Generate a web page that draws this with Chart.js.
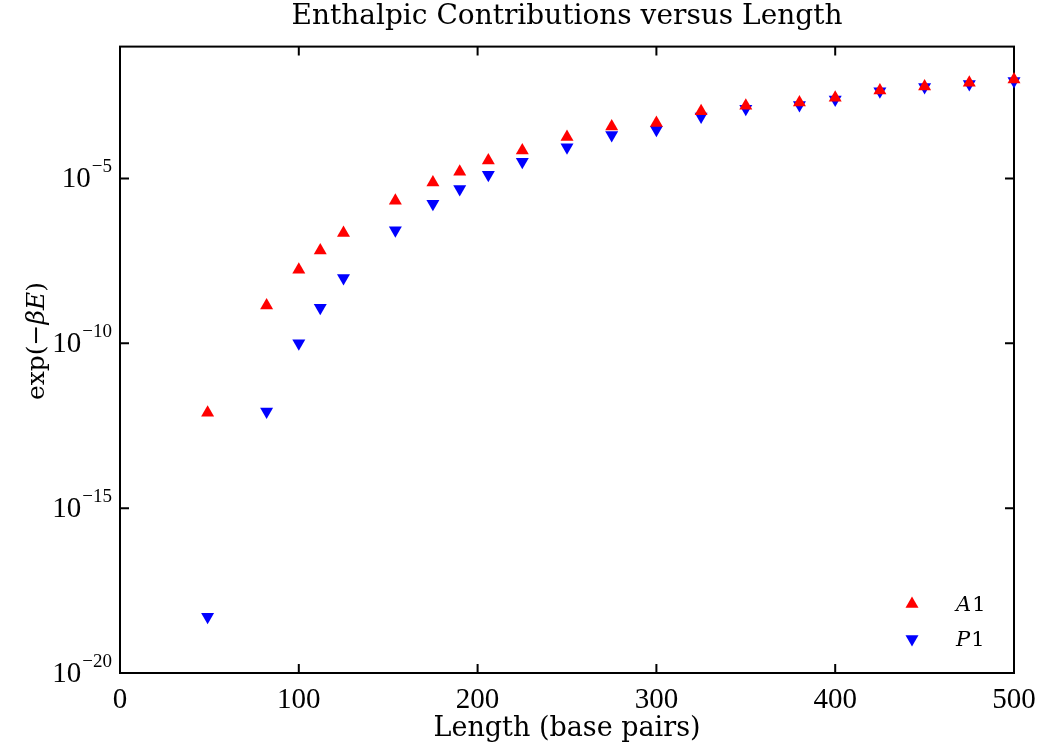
<!DOCTYPE html>
<html>
<head>
<meta charset="utf-8">
<script src="https://cdn.jsdelivr.net/npm/chart.js@4.4.0/dist/chart.umd.min.js"></script>
<style>
  body { margin: 0; background: #fff; }
</style>
</head>
<body>
<canvas id="energyChart" width="1042" height="749"></canvas>
<script>
// values
const lengths = [49, 82, 100, 112, 125, 154, 175, 190, 206, 225, 250, 275, 300, 325, 350, 380, 400, 425, 450, 475, 500];
const a1Values = [7.9e-13, 1.4e-9, 1.7e-8, 6.5e-8, 2.2e-7, 2.1e-6, 7.6e-6, 1.6e-5, 3.5e-5, 7.1e-5, 1.8e-4,
                  3.8e-4, 4.8e-4, 1.1e-3, 1.6e-3, 2.0e-3, 2.8e-3, 4.7e-3, 6.2e-3, 8.0e-3, 1.0e-2];
const p1Values = [5.1e-19, 8.5e-13, 1.0e-10, 1.2e-9, 9.6e-9, 2.7e-7, 1.7e-6, 4.8e-6, 1.3e-5, 3.2e-5, 8.9e-5,
                  2.1e-4, 3.0e-4, 7.6e-4, 1.3e-3, 1.7e-3, 2.5e-3, 4.4e-3, 6.0e-3, 7.4e-3, 9.0e-3];
const xTickValues = [0, 100, 200, 300, 400, 500];
const yTickExponents = [-20, -15, -10, -5];
const seriesNames = ['A1', 'P1'];
const seriesColors = ['#ff0000', '#0000ff'];

const serif = 'DejaVu Serif';
const numFont = 'Liberation Serif';
const tickLen = 9;

function toPoints(values) {
    return lengths.map((x, i) => ({ x: x, y: values[i] }));
}

// frame and inward ticks, drawn under the markers
const framePlugin = {
    id: 'frame',
    beforeDatasetsDraw(chart) {
        const ctx = chart.ctx;
        const a = chart.chartArea;
        const xs = chart.scales.x;
        const ys = chart.scales.y;
        ctx.save();
        ctx.strokeStyle = '#000';
        ctx.lineWidth = 2;
        ctx.strokeRect(a.left, a.top, a.right - a.left, a.bottom - a.top);
        ctx.beginPath();
        xTickValues.forEach(v => {
            const px = xs.getPixelForValue(v);
            ctx.moveTo(px, a.bottom);
            ctx.lineTo(px, a.bottom - tickLen);
            ctx.moveTo(px, a.top);
            ctx.lineTo(px, a.top + tickLen);
        });
        yTickExponents.forEach(e => {
            const py = ys.getPixelForValue(Math.pow(10, e));
            ctx.moveTo(a.left, py);
            ctx.lineTo(a.left + tickLen, py);
            ctx.moveTo(a.right, py);
            ctx.lineTo(a.right - tickLen, py);
        });
        ctx.stroke();
        ctx.restore();
    },
    afterDraw(chart) {
        const ctx = chart.ctx;
        const ys = chart.scales.y;
        ctx.save();
        ctx.fillStyle = '#000';

        // y tick labels as 10 with a raised exponent
        yTickExponents.forEach(e => {
            const py = ys.getPixelForValue(Math.pow(10, e));
            const expText = '\u2212' + Math.abs(e);
            ctx.font = '19px "' + numFont + '"';
            const expW = ctx.measureText(expText).width;
            ctx.font = '29px "' + numFont + '"';
            const baseW = ctx.measureText('10').width;
            const right = 112;
            ctx.textBaseline = 'middle';
            ctx.textAlign = 'left';
            ctx.fillText('10', right - expW - baseW - 1, py + 1);
            ctx.font = '19px "' + numFont + '"';
            ctx.fillText(expText, right - expW, py - 11);
        });

        // y axis title exp(-βE)
        const parts = [['exp(\u2212', ''], ['\u03b2', 'italic '], ['E', 'italic '], [')', '']];
        ctx.save();
        ctx.translate(37, 341);
        ctx.rotate(-Math.PI / 2);
        let total = 0;
        parts.forEach(p => {
            ctx.font = p[1] + '25px "' + serif + '"';
            total += ctx.measureText(p[0]).width;
        });
        let cx = -total / 2;
        ctx.textBaseline = 'middle';
        ctx.textAlign = 'left';
        parts.forEach(p => {
            ctx.font = p[1] + '25px "' + serif + '"';
            ctx.fillText(p[0], cx, 0);
            cx += ctx.measureText(p[0]).width;
        });
        ctx.restore();

        // legend, bottom right inside the axes
        const legendY = [606, 641];
        seriesNames.forEach((name, i) => {
            ctx.fillStyle = seriesColors[i];
            Chart.helpers.drawPoint(ctx, {
                pointStyle: 'triangle', rotation: i === 0 ? 0 : 180, radius: 7.5, borderWidth: 0
            }, 912, legendY[i] - 2);
            ctx.fillStyle = '#000';
            ctx.textBaseline = 'middle';
            ctx.textAlign = 'left';
            ctx.font = 'italic 21px "' + serif + '"';
            ctx.fillText(name[0], 956, legendY[i]);
            const w = ctx.measureText(name[0]).width;
            ctx.font = '21px "' + serif + '"';
            ctx.fillText(name.slice(1), 956 + w + 1, legendY[i]);
        });
        ctx.restore();
    }
};

const ctx = document.getElementById('energyChart').getContext('2d');
const energyChart = new Chart(ctx, {
    type: 'scatter',
    data: {
        datasets: [{
            label: seriesNames[0],
            data: toPoints(a1Values),
            pointStyle: 'triangle',
            rotation: 0,
            pointRadius: 7.5,
            pointBorderWidth: 0,
            backgroundColor: seriesColors[0],
            borderColor: seriesColors[0],
            clip: false
        }, {
            label: seriesNames[1],
            data: toPoints(p1Values),
            pointStyle: 'triangle',
            rotation: 180,
            pointRadius: 7.5,
            pointBorderWidth: 0,
            backgroundColor: seriesColors[1],
            borderColor: seriesColors[1],
            clip: false
        }]
    },
    options: {
        responsive: false,
        animation: false,
        devicePixelRatio: 1,
        layout: { padding: { left: 0, right: 28, top: 0, bottom: 0 } },
        plugins: {
            legend: { display: false },
            tooltip: { enabled: false },
            title: {
                display: true,
                fullSize: false,
                text: 'Enthalpic Contributions versus Length',
                color: '#000',
                font: { family: serif, size: 28, weight: 'normal' },
                padding: { top: 0, bottom: 13 }
            }
        },
        scales: {
            x: {
                type: 'linear',
                min: 0,
                max: 500,
                afterBuildTicks: scale => {
                    scale.ticks = xTickValues.map(v => ({ value: v }));
                },
                afterFit: scale => {
                    scale.height = 76;
                    scale.paddingLeft = 0;
                    scale.paddingRight = 0;
                },
                grid: { display: false, drawTicks: false },
                border: { display: false },
                ticks: {
                    color: '#000',
                    padding: 10,
                    maxRotation: 0,
                    font: { family: numFont, size: 29 }
                },
                title: {
                    display: true,
                    text: 'Length (base pairs)',
                    color: '#000',
                    font: { family: serif, size: 27 },
                    padding: { top: 0, bottom: 4 }
                }
            },
            y: {
                type: 'logarithmic',
                min: 1e-20,
                max: 1e-1,
                afterBuildTicks: scale => {
                    scale.ticks = yTickExponents.map(e => ({ value: Math.pow(10, e) }));
                },
                afterFit: scale => {
                    scale.width = 120;
                    scale.paddingTop = 0;
                    scale.paddingBottom = 0;
                },
                grid: { display: false, drawTicks: false },
                border: { display: false },
                ticks: { display: false }
            }
        }
    },
    plugins: [framePlugin]
});
</script>
</body>
</html>
